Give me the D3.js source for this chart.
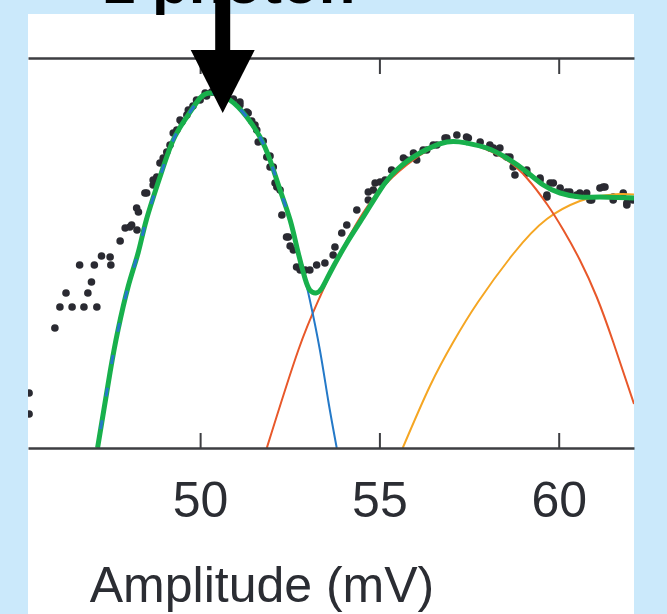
<!DOCTYPE html>
<html>
<head>
<meta charset="utf-8">
<script src="https://cdn.jsdelivr.net/npm/d3@7"></script>
<style>
  body { margin: 0; background: #cbe9fb; }
  svg { display: block; }
</style>
</head>
<body>
<div id="container"></div>
<script>
/* CONSTANTS AND GLOBALS */
const width = 667,
  height = 614,
  margin = { top: 58, bottom: 166, left: 28, right: 33 };

// DATA (amplitude in mV, log10 counts)
const xTicks = [50, 55, 60];

const measured = [
  [45.23, 0.55], [45.23, 0.34], [45.95, 1.20], [46.09, 1.41], [46.43, 1.41],
  [46.76, 1.41], [47.12, 1.41], [46.26, 1.55], [46.87, 1.55], [46.97, 1.66],
  [46.64, 1.83], [47.05, 1.83], [47.25, 1.92], [47.49, 1.91], [47.51, 1.83],
  [47.77, 2.07], [47.91, 2.20], [48.09, 2.23], [48.24, 2.18], [48.28, 2.36],
  [48.51, 2.55], [48.69, 2.63], [48.79, 2.71], [48.97, 2.90], [49.16, 3.03],
  [49.35, 3.18], [49.49, 3.26], [49.63, 3.33], [49.80, 3.42], [50.00, 3.48],
  [50.18, 3.52], [50.37, 3.56], [50.55, 3.56], [50.72, 3.54], [50.93, 3.49],
  [51.11, 3.43], [51.30, 3.36], [51.44, 3.27], [51.58, 3.18], [51.76, 3.07],
  [51.95, 2.92], [52.04, 2.81], [52.14, 2.61], [52.28, 2.33], [52.41, 2.11],
  [52.51, 2.02], [52.69, 1.81], [52.79, 1.78], [52.93, 1.78], [53.06, 1.78],
  [53.25, 1.83], [53.48, 1.85], [53.71, 1.93], [53.76, 2.01], [53.95, 2.15],
  [54.09, 2.23], [54.37, 2.38], [54.69, 2.48], [54.83, 2.58], [55.02, 2.66],
  [55.34, 2.78], [55.76, 2.88], [56.04, 2.88], [56.32, 2.98], [56.60, 3.03],
  [56.88, 3.10], [57.16, 3.13], [57.43, 3.11], [57.81, 3.06], [58.18, 3.00],
  [58.55, 2.91], [58.73, 2.81], [58.78, 2.73], [59.11, 2.75], [59.48, 2.68],
  [59.67, 2.51], [59.85, 2.65], [60.22, 2.56], [60.59, 2.55], [60.92, 2.48],
  [61.24, 2.61], [61.52, 2.48], [61.90, 2.45], [62.07, 2.48],
  [48.04, 2.21], [48.23, 2.40], [48.46, 2.55], [48.69, 2.68], [48.88, 2.85],
  [49.07, 2.96], [49.25, 3.15], [49.44, 3.28], [49.67, 3.38], [49.90, 3.48],
  [50.14, 3.55], [50.32, 3.56], [51.11, 3.46], [51.34, 3.35], [51.53, 3.23],
  [51.62, 3.06], [51.86, 2.91], [51.95, 2.81], [52.09, 2.65], [52.23, 2.58],
  [52.46, 2.11], [52.60, 1.98], [52.79, 1.81],
  [54.69, 2.56], [54.88, 2.65], [55.16, 2.68], [55.67, 2.90], [55.95, 2.95],
  [56.22, 2.98], [56.50, 3.03], [56.83, 3.10], [57.48, 3.10], [58.08, 3.00],
  [58.27, 2.95], [58.08, 3.03], [58.36, 3.00], [58.64, 2.91], [59.11, 2.78],
  [59.48, 2.70], [59.76, 2.65], [59.67, 2.53], [60.04, 2.60], [60.31, 2.56],
  [60.50, 2.53], [60.78, 2.55], [60.87, 2.48], [61.15, 2.60], [61.29, 2.61],
  [61.52, 2.51], [61.80, 2.55], [61.90, 2.43]
];

const fitPeak1 = [
  [47.14, 0.00], [47.49, 0.76], [47.71, 1.18], [47.99, 1.61], [48.27, 1.95],
  [48.50, 2.28], [48.88, 2.71], [49.25, 3.08], [49.63, 3.31], [50.00, 3.50],
  [50.33, 3.55], [50.83, 3.48], [51.30, 3.31], [51.67, 3.11], [51.95, 2.88],
  [52.23, 2.58], [52.51, 2.28], [52.69, 2.01], [52.88, 1.75], [53.06, 1.48],
  [53.34, 0.98], [53.57, 0.48], [53.81, 0.00]
];

const fitPeak2 = [
  [51.86, 0.00], [52.74, 0.98], [53.34, 1.51], [53.81, 1.88], [54.37, 2.25],
  [55.02, 2.58], [55.76, 2.83], [56.41, 2.99], [57.06, 3.06], [57.81, 3.01],
  [58.55, 2.88], [59.11, 2.70], [59.67, 2.44], [60.13, 2.18], [60.59, 1.88],
  [61.06, 1.51], [61.52, 1.06], [62.10, 0.44]
];

const fitPeak3 = [
  [55.65, 0.00], [56.41, 0.62], [57.06, 1.06], [57.75, 1.46], [58.73, 1.94],
  [59.67, 2.29], [60.59, 2.47], [61.15, 2.52], [61.71, 2.54], [62.10, 2.535]
];

const fitTotal = [
  [47.14, 0.00], [47.49, 0.76], [47.71, 1.18], [47.99, 1.61], [48.27, 1.95],
  [48.50, 2.28], [48.88, 2.71], [49.25, 3.08], [49.63, 3.31], [50.00, 3.50],
  [50.33, 3.55], [50.83, 3.48], [51.30, 3.31], [51.67, 3.11], [51.95, 2.88],
  [52.23, 2.58], [52.51, 2.28], [52.73, 1.96], [52.93, 1.69], [53.06, 1.58],
  [53.23, 1.55], [53.40, 1.60], [53.62, 1.75], [54.09, 2.05], [54.55, 2.31],
  [55.02, 2.58], [55.48, 2.78], [56.13, 2.95], [56.88, 3.06], [57.43, 3.05],
  [57.99, 3.00], [58.55, 2.90], [59.11, 2.76], [59.57, 2.63], [60.04, 2.55],
  [60.59, 2.51], [61.15, 2.51], [62.10, 2.50]
];

const peakAmp = 50.63, peakArrowTip = 3.35;

// APPEND SVG
const svg = d3.select("#container")
  .append("svg")
  .attr("width", width)
  .attr("height", height)

const defs = svg.append("defs")

// soft edges like the scanned figure
defs.append("filter")
  .attr("id", "soft")
  .append("feGaussianBlur")
  .attr("stdDeviation", 0.6)

// white figure panel
svg.append("rect")
  .attr("x", 28)
  .attr("y", 14)
  .attr("width", 606)
  .attr("height", height - 14)
  .attr("fill", "white")

// SCALES
const xScale = d3.scaleLinear()
  .domain([45.2, 62.1])
  .range([margin.left, width - margin.right])

const yScale = d3.scaleLinear()
  .domain([0, 3.9])
  .range([height - margin.bottom, margin.top])

defs.append("clipPath")
  .attr("id", "plot-clip")
  .append("rect")
  .attr("x", margin.left)
  .attr("y", margin.top)
  .attr("width", width - margin.left - margin.right)
  .attr("height", height - margin.top - margin.bottom)

// where the blue fit runs under the total fit
defs.append("clipPath")
  .attr("id", "overlap-clip")
  .append("rect")
  .attr("x", margin.left)
  .attr("y", margin.top)
  .attr("width", xScale(52.45) - margin.left)
  .attr("height", height - margin.top - margin.bottom)

const plot = svg.append("g").attr("clip-path", "url(#plot-clip)")

// DOTS
plot.append("g")
  .attr("filter", "url(#soft)")
  .selectAll("circle.dot")
  .data(measured)
  .join("circle")
  .attr("class", "dot")
  .attr("cx", d => xScale(d[0]))
  .attr("cy", d => yScale(d[1]))
  .attr("r", 3.8)
  .attr("fill", "#2a2c31")

// FIT LINES
const lineGen = d3.line()
  .x(d => xScale(d[0]))
  .y(d => yScale(d[1]))
  .curve(d3.curveNatural)

const fits = [
  { data: fitPeak3, color: "#F5A623", w: 2 },
  { data: fitPeak2, color: "#E8582A", w: 2 },
  { data: fitPeak1, color: "#2479C8", w: 2 },
  { data: fitTotal, color: "#18B04C", w: 5 }
]

plot.selectAll("path.fit")
  .data(fits)
  .join("path")
  .attr("class", "fit")
  .attr("d", d => lineGen(d.data))
  .attr("fill", "none")
  .attr("stroke", d => d.color)
  .attr("stroke-width", d => d.w)
  .attr("stroke-linejoin", "round")

// blue peeks through the green in the original
plot.append("path")
  .attr("clip-path", "url(#overlap-clip)")
  .attr("d", lineGen(fitPeak1))
  .attr("fill", "none")
  .attr("stroke", "#2479C8")
  .attr("stroke-width", 3)
  .attr("stroke-dasharray", "9 24")
  .attr("stroke-dashoffset", 14)

// AXES
const xAxis = d3.axisBottom(xScale)
  .tickValues(xTicks)
  .tickSizeInner(-15)
  .tickSizeOuter(0)
  .tickPadding(33)

const xAxisTop = d3.axisTop(xScale)
  .tickValues(xTicks)
  .tickSizeInner(-16)
  .tickSizeOuter(0)
  .tickFormat("")

const gx = svg.append("g")
  .attr("transform", `translate(0, ${height - margin.bottom})`)
  .call(xAxis)

const gTop = svg.append("g")
  .attr("transform", `translate(0, ${margin.top})`)
  .call(xAxisTop)

svg.selectAll(".domain")
  .attr("stroke", "#3d3e42")
  .attr("stroke-width", 2.6)
svg.selectAll(".tick line")
  .attr("stroke", "#3d3e42")
  .attr("stroke-width", 2)

gx.selectAll(".tick text")
  .attr("font-family", "'Liberation Sans', Arial, sans-serif")
  .attr("font-size", 50)
  .attr("fill", "#2b2d33")

svg.append("text")
  .attr("x", 262)
  .attr("y", 602)
  .attr("text-anchor", "middle")
  .attr("font-family", "'Liberation Sans', Arial, sans-serif")
  .attr("font-size", 50)
  .attr("fill", "#2b2d33")
  .text("Amplitude (mV)")

// ANNOTATION
const ax = xScale(peakAmp)
svg.append("text")
  .attr("x", ax + 6)
  .attr("y", 3)
  .attr("text-anchor", "middle")
  .attr("font-family", "'Liberation Sans', Arial, sans-serif")
  .attr("font-weight", "bold")
  .attr("font-size", 60)
  .attr("fill", "black")
  .text("1 photon")

svg.append("rect")
  .attr("x", ax - 7.5)
  .attr("y", 0)
  .attr("width", 15)
  .attr("height", 52)
  .attr("fill", "black")

svg.append("path")
  .attr("d", `M${ax - 32},50 L${ax + 32},50 L${ax},${yScale(peakArrowTip)} Z`)
  .attr("fill", "black")
</script>
</body>
</html>
